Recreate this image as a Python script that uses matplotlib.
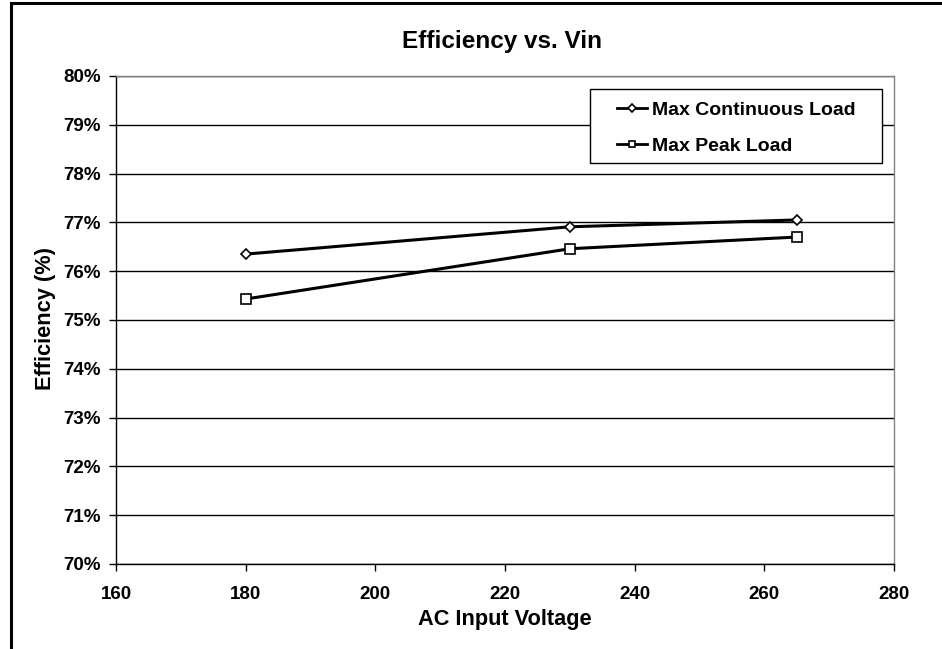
import matplotlib
matplotlib.use("Agg")
import matplotlib.pyplot as plt
from matplotlib.patches import Rectangle

plt.rcParams['font.family'] = ['Liberation Sans', 'DejaVu Sans']
plt.rcParams['font.weight'] = 'bold'

vin = [180, 230, 265]
cont_load = [76.35, 76.91, 77.05]
peak_load = [75.43, 76.46, 76.70]
series_names = ["Max Continuous Load", "Max Peak Load"]
x_ticks = [160, 180, 200, 220, 240, 260, 280]
y_ticks = list(range(70, 81))

W, H = 942, 649
fig = plt.figure(figsize=(W/100, H/100), dpi=100)
L, R, T, B = 116, 894, 76, 564
ax = fig.add_axes([L/W, 1-B/H, (R-L)/W, (B-T)/H])

def fx(px):
    return px / W

def fy(py):
    return 1 - py / H

for y in y_ticks:
    ax.axhline(y, color='black', lw=1.0, zorder=1)

ax.plot(vin, cont_load, color='black', lw=2.2, marker='D', ms=5, mfc='white', mec='black', mew=1.2,
        label=series_names[0], zorder=3)
ax.plot(vin, peak_load, color='black', lw=2.2, marker='s', ms=6.5, mfc='white', mec='black', mew=1.2,
        label=series_names[1], zorder=3)

ax.set_xlim(160, 280)
ax.set_ylim(70, 80)
ax.set_xticks(x_ticks)
ax.set_yticks(y_ticks)
ax.set_yticklabels([f"{v}%" for v in y_ticks])
ax.tick_params(axis='both', labelsize=13.5, direction='out', length=5, width=1)
ax.tick_params(axis='y', pad=6)
ax.tick_params(axis='x', pad=11)
for lbl in ax.get_xticklabels() + ax.get_yticklabels():
    lbl.set_fontweight('bold')

for side in ['left', 'bottom']:
    ax.spines[side].set_color('black')
    ax.spines[side].set_linewidth(1.0)
for side in ['right', 'top']:
    ax.spines[side].set_color('#808080')
    ax.spines[side].set_linewidth(1.0)

fig.text(fx(502), fy(48), "Efficiency vs. Vin", fontsize=17.5, fontweight='bold',
         ha='center', va='baseline')
fig.text(fx(505), fy(625), "AC Input Voltage", fontsize=15.7, fontweight='bold',
         ha='center', va='baseline')
fig.text(fx(51), fy(319), "Efficiency (%)", fontsize=15.7, fontweight='bold',
         ha='center', va='baseline', rotation=90, rotation_mode='anchor')

# legend frame
ax.add_patch(Rectangle((fx(590), fy(163)), (882-590)/W, (163-89)/H, transform=fig.transFigure,
                       facecolor='white', edgecolor='black', lw=1.0, zorder=4, clip_on=False))
leg = ax.legend(loc='upper left', bbox_to_anchor=(fx(617), fy(101)), bbox_transform=fig.transFigure,
                prop={'size': 14, 'weight': 'bold'}, frameon=False,
                handlelength=1.55, handletextpad=0.25, borderpad=0, borderaxespad=0,
                labelspacing=0.95, markerscale=0.75)
for h in leg.legend_handles:
    h.set_linewidth(2.0)
leg.set_zorder(5)

fig.patches.append(Rectangle((11/W, -0.1), 1.2, 1.1 - 3.5/H, transform=fig.transFigure,
                             fill=False, edgecolor='black', lw=2.2, zorder=10))

fig.savefig("out.png", dpi=100)
